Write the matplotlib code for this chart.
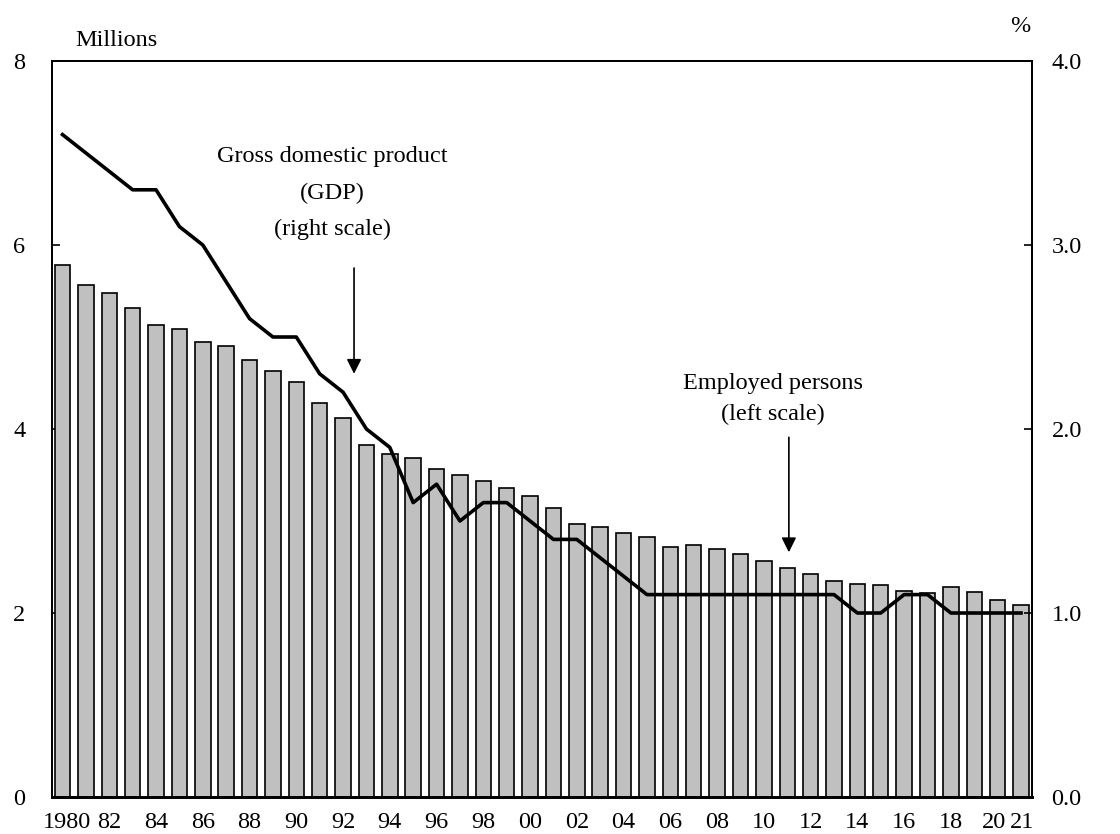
import matplotlib
matplotlib.use("Agg")
import matplotlib.pyplot as plt
import matplotlib.transforms as mtransforms
import numpy as np

years = list(range(1980, 2022))
employed = [5.78, 5.57, 5.48, 5.31, 5.13, 5.09, 4.95, 4.90, 4.75, 4.63,
            4.51, 4.28, 4.12, 3.83, 3.73, 3.68, 3.57, 3.50, 3.43, 3.36,
            3.27, 3.14, 2.97, 2.94, 2.87, 2.83, 2.72, 2.74, 2.70, 2.64,
            2.56, 2.49, 2.42, 2.35, 2.32, 2.30, 2.24, 2.22, 2.28, 2.23,
            2.14, 2.09]
gdp_share = [3.6, 3.5, 3.4, 3.3, 3.3, 3.1, 3.0, 2.8, 2.6, 2.5,
             2.5, 2.3, 2.2, 2.0, 1.9, 1.6, 1.7, 1.5, 1.6, 1.6,
             1.5, 1.4, 1.4, 1.3, 1.2, 1.1, 1.1, 1.1, 1.1, 1.1,
             1.1, 1.1, 1.1, 1.1, 1.0, 1.0, 1.1, 1.1, 1.0, 1.0,
             1.0, 1.0]
x_labels = ["1980", "82", "84", "86", "88", "90", "92", "94", "96", "98",
            "00", "02", "04", "06", "08", "10", "12", "14", "16", "18", "20", "21"]
left_ticks = [0, 2, 4, 6, 8]
right_ticks = [0.0, 1.0, 2.0, 3.0, 4.0]

plt.rcParams['font.family'] = ['Liberation Serif', 'DejaVu Serif']
FS = 17.5

W, H = 1120, 834
fig = plt.figure(figsize=(W / 100, H / 100), dpi=100)
ax = fig.add_axes([52 / W, 1 - 797 / H, 980 / W, 736 / H])
ax2 = ax.twinx()

x = np.arange(len(years))
ax.bar(x, employed, width=0.66, color='#c0c0c0', edgecolor='black', linewidth=1.2, zorder=2)
ax2.plot(x, gdp_share, color='black', linewidth=2.6, solid_joinstyle='round', zorder=3)

ax.set_xlim(-0.45, len(years) - 1 + 0.47)
ax.set_ylim(0, 8)
ax2.set_ylim(0, 4)

ax.set_yticks(left_ticks)
ax.set_yticklabels([str(v) for v in left_ticks], fontsize=FS)
ax2.set_yticks(right_ticks)
ax2.set_yticklabels([f"{v:.1f}" for v in right_ticks], fontsize=FS)
ax.tick_params(axis='y', direction='in', length=6, width=1.2, pad=19)
ax2.tick_params(axis='y', direction='in', length=6, width=1.2, pad=14)

tick_pos = [years.index(1980 + 2 * i) for i in range(21)] + [years.index(2021)]
ax.set_xticks(tick_pos)
ax.set_xticklabels(x_labels, fontsize=FS)
ax.tick_params(axis='x', length=0, pad=11)

# nudge the crowded labels apart, as in the original
labs = ax.get_xticklabels()
labs[0].set_transform(labs[0].get_transform() + mtransforms.ScaledTranslation(4 / 100, 0, fig.dpi_scale_trans))
labs[-2].set_transform(labs[-2].get_transform() + mtransforms.ScaledTranslation(-4 / 100, 0, fig.dpi_scale_trans))
labs[-1].set_transform(labs[-1].get_transform() + mtransforms.ScaledTranslation(1 / 100, 0, fig.dpi_scale_trans))

for a in (ax, ax2):
    for s in a.spines.values():
        s.set_linewidth(1.3)
    a.spines['bottom'].set_linewidth(2.0)

ax2.patch.set_visible(False)

fig.text(75 / W, 1 - 41 / H, "Millions", fontsize=FS, ha='left', va='center')
fig.text(1020 / W, 1 - 27 / H, "%", fontsize=FS, ha='center', va='center')

# annotations (left-axis data coordinates)
ax.text(11.55, 6.96, "Gross domestic product", fontsize=FS, ha='center', va='center', zorder=5)
ax.text(11.55, 6.56, "(GDP)", fontsize=FS, ha='center', va='center', zorder=5)
ax.text(11.55, 6.17, "(right scale)", fontsize=FS, ha='center', va='center', zorder=5)
ax.annotate("", xy=(12.47, 4.60), xytext=(12.47, 5.75),
            arrowprops=dict(arrowstyle='-|>', color='black', lw=1.2,
                            mutation_scale=22, shrinkA=0, shrinkB=0), zorder=5)

ax.text(30.4, 4.49, "Employed persons", fontsize=FS, ha='center', va='center', zorder=5)
ax.text(30.4, 4.16, "(left scale)", fontsize=FS, ha='center', va='center', zorder=5)
ax.annotate("", xy=(31.07, 2.66), xytext=(31.07, 3.91),
            arrowprops=dict(arrowstyle='-|>', color='black', lw=1.2,
                            mutation_scale=22, shrinkA=0, shrinkB=0), zorder=5)

fig.savefig("out.png", dpi=100)
